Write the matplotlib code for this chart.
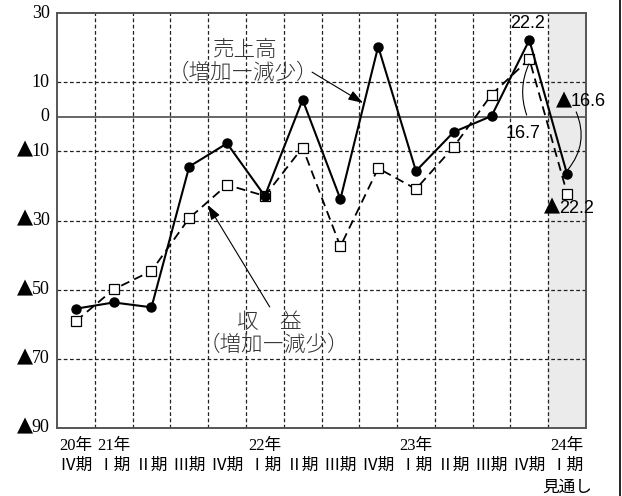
import matplotlib
matplotlib.use("Agg")
import matplotlib.pyplot as plt
from matplotlib.lines import Line2D

plt.rcParams['font.family'] = ['Liberation Serif', 'Noto Sans CJK JP']

# categories (quarters)
years = ['20年', '21年', '', '', '', '22年', '', '', '', '23年', '', '', '', '24年']
quarters = ['Ⅳ期', 'Ⅰ期', 'Ⅱ期', 'Ⅲ期', 'Ⅳ期', 'Ⅰ期', 'Ⅱ期', 'Ⅲ期', 'Ⅳ期',
            'Ⅰ期', 'Ⅱ期', 'Ⅲ期', 'Ⅳ期', 'Ⅰ期']
# 売上高 (増加-減少), 収益 (増加-減少)
sales = [-55.5, -53.7, -55.1, -14.4, -7.7, -22.9, 4.9, -23.8, 20.3, -15.7, -4.4, 0.2, 22.2, -16.6]
profit = [-59.1, -49.9, -44.6, -29.3, -19.7, -22.9, -8.9, -37.5, -14.9, -20.9, -8.7, 6.4, 16.7, -22.2]
yticks = [30, 10, 0, -10, -30, -50, -70, -90]

x = list(range(len(quarters)))
jp = ['Noto Sans CJK JP']
num = ['Liberation Sans']


def tri(ax, t, fontsize, dx=1.0, dy=0.0):
    """black triangle (minus sign) in front of a text"""
    ax.annotate('▲', xy=(0, 0), xycoords=t, xytext=(dx, dy), textcoords='offset points',
                ha='right', va='bottom', fontsize=fontsize, family=['DejaVu Sans'],
                annotation_clip=False)


fig = plt.figure(figsize=(6.22, 4.96), dpi=100)
ax = fig.add_axes([57/622, 1-428/496, 529/622, 415/496])

ax.set_xlim(-0.5, len(x) - 0.5)
ax.set_ylim(-90, 30)

# forecast shading
ax.axvspan(len(x) - 1.5, len(x) - 0.5, color='#ebebeb', zorder=0)

# grid
for b in range(len(x) - 1):
    ax.axvline(b + 0.5, color='#222222', lw=0.9, ls=(0, (3, 2)), zorder=1)
for yv in [10, -10, -30, -50, -70]:
    ax.axhline(yv, color='#222222', lw=0.9, ls=(0, (3, 2)), zorder=1)
ax.axhline(0, color='#666666', lw=1.4, zorder=1)

ax.plot(x, profit, color='black', lw=1.3, ls=(0, (5, 3)), marker='s', ms=7,
        mfc='white', mec='black', mew=0.9, zorder=3)
ax.plot(x, sales, color='black', lw=1.5, marker='o', ms=6.5, mfc='black',
        mec='black', zorder=4)

ax.set_yticks(yticks)
ax.set_yticklabels([])
ax.set_xticks([])
ax.tick_params(axis='y', length=0)

for s in ax.spines.values():
    s.set_color('#555555')
    s.set_linewidth(1.4)

# y labels
ytr = ax.get_yaxis_transform()
for yv in yticks:
    t = ax.text(-0.014, yv, '%d' % abs(yv), transform=ytr, ha='right', va='center',
                fontsize=13, family=['Liberation Serif'])
    if yv < 0:
        tri(ax, t, 15, 1.0, 0.8)

# x labels
tr = ax.get_xaxis_transform()
for i in x:
    if years[i]:
        ax.text(i, -0.044, years[i], transform=tr, ha='center', va='center', fontsize=12)
    ax.text(i, -0.091, quarters[i], transform=tr, ha='center', va='center', fontsize=12)
ax.text(x[-1], -0.144, '見通し', transform=tr, ha='center', va='center', fontsize=12)

ax.text(4.47, 19.3, '売上高', ha='center', va='center', fontsize=15.5, family=jp, weight='light', color='#333333')
ax.text(4.42, 12.7, '（増加―減少）', ha='center', va='center', fontsize=15.5, family=jp, weight='light', color='#333333')
ax.annotate('', xy=(7.6, 4.0), xytext=(6.25, 12.9),
            arrowprops=dict(arrowstyle='-|>,head_length=0.9,head_width=0.3', lw=0.8, color='black', shrinkA=0, shrinkB=0))

ax.text(5.13, -59.3, '収　益', ha='center', va='center', fontsize=15.5, family=jp, weight='light', color='#333333')
ax.text(5.24, -66.0, '（増加―減少）', ha='center', va='center', fontsize=15.5, family=jp, weight='light', color='#333333')
ax.annotate('', xy=(3.49, -25.5), xytext=(5.13, -55.0),
            arrowprops=dict(arrowstyle='-|>,head_length=0.9,head_width=0.3', lw=0.8, color='black', shrinkA=0, shrinkB=0))

# value callouts
ax.text(11.96, 27.1, '%.1f' % sales[12], ha='center', va='center', fontsize=13, family=num)
ax.text(11.83, -4.7, '%.1f' % profit[12], ha='center', va='center', fontsize=13, family=num)
t1 = ax.text(13.1, 4.3, '%.1f' % abs(sales[13]), ha='left', va='center', fontsize=13, family=num)
tri(ax, t1, 15, 0.5, 0.5)
t2 = ax.text(12.78, -26.4, '%.1f' % abs(profit[13]), ha='left', va='center', fontsize=13, family=num)
tri(ax, t2, 15, 0.5, 0.5)

ax.annotate('', xy=(11.99, 15.3), xytext=(11.93, 0.5),
            arrowprops=dict(arrowstyle='-', lw=0.8, color='black', shrinkA=0, shrinkB=0,
                            connectionstyle='arc3,rad=-0.2'))
ax.annotate('', xy=(13.02, -15.3), xytext=(13.24, 1.4),
            arrowprops=dict(arrowstyle='-', lw=0.8, color='black', shrinkA=0, shrinkB=0,
                            connectionstyle='arc3,rad=-0.3'))

fig.add_artist(Line2D([620/622, 620/622], [0, 1], color='black', lw=1.2))

fig.savefig('out.png', dpi=100)
